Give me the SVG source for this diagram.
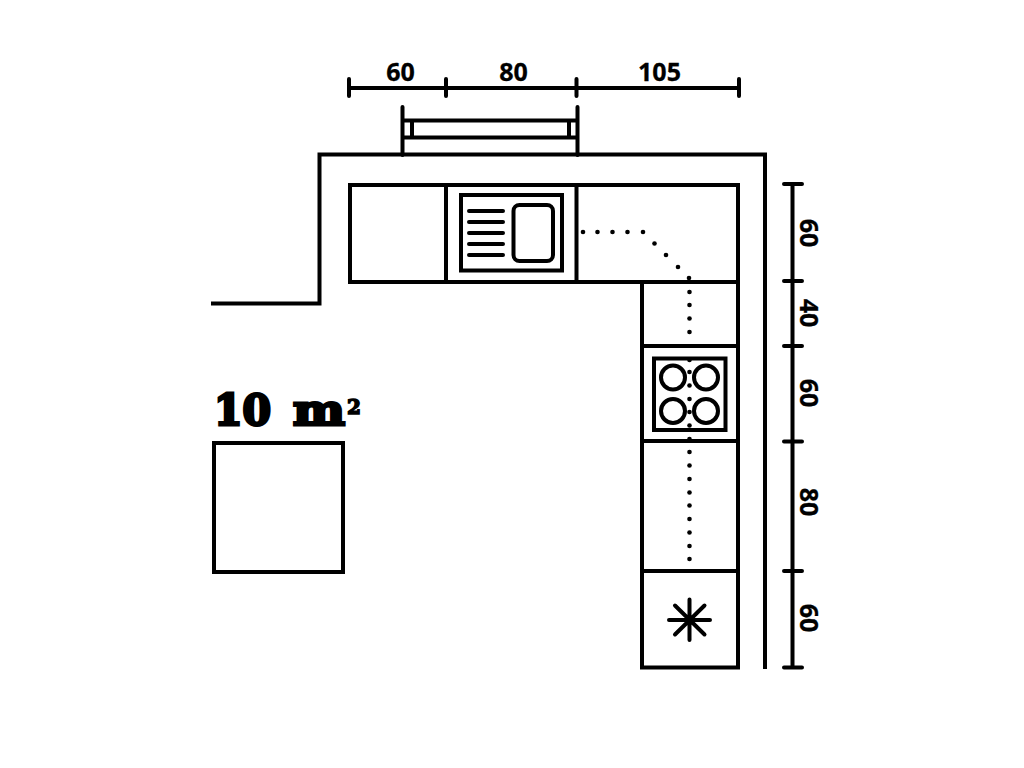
<svg xmlns="http://www.w3.org/2000/svg" width="1024" height="768" viewBox="0 0 1024 768">
<style>
.l{fill:none;stroke:#000;stroke-width:4}
.r{stroke-linecap:round;stroke-linejoin:round}
.d{fill:#000}
.t{font-family:"Open Sans",sans-serif;font-weight:700;font-size:25px;fill:#000;text-anchor:middle;stroke:#000;stroke-width:.3}
</style>
<rect width="1024" height="768" fill="#fff"/>
<g id="walls">
<path class="l" d="M211 303.500H319.500V154.500H765V669"/>
</g>
<g id="window">
<path class="l r" d="M402.500 107V155M577.500 107V155M403 120.500H577M403 137.500H577M412 121V137M569 121V137"/>
</g>
<g id="counter-top">
<path class="l" d="M350 185H738V282H350ZM446 185V282M576.500 185V282"/>
</g>
<g id="counter-side">
<path class="l" d="M642 282V667.500H738V282M642 346H738M642 441H738M642 571H738"/>
</g>
<g id="sink">
<rect class="l" x="461" y="195" width="101" height="75.500"/>
<path class="l r" d="M469 211H503M469 222H503M469 233H503M469 244H503M469 255H503"/>
<rect class="l" x="513.500" y="205" width="39.500" height="56" rx="6"/>
</g>
<g id="route">
<g class="d">
<circle cx="583" cy="232" r="2.300"/><circle cx="597.500" cy="232" r="2.300"/><circle cx="612.500" cy="232" r="2.300"/><circle cx="627.500" cy="232" r="2.300"/><circle cx="643" cy="232" r="2.300"/>
<circle cx="654.500" cy="243.500" r="2.300"/><circle cx="666" cy="255" r="2.300"/><circle cx="678" cy="267" r="2.300"/><circle cx="689" cy="278" r="2.300"/>
<circle cx="689.500" cy="292" r="2.300"/><circle cx="689.500" cy="305" r="2.300"/><circle cx="689.500" cy="318.500" r="2.300"/><circle cx="689.500" cy="332" r="2.300"/>
<circle cx="689.500" cy="360" r="2.300"/><circle cx="689.500" cy="372" r="2.300"/><circle cx="689.500" cy="385.500" r="2.300"/><circle cx="689.500" cy="399" r="2.300"/><circle cx="689.500" cy="412" r="2.300"/><circle cx="689.500" cy="425.500" r="2.300"/><circle cx="689.500" cy="439" r="2.300"/>
<circle cx="689.500" cy="452" r="2.300"/><circle cx="689.500" cy="465.500" r="2.300"/><circle cx="689.500" cy="479" r="2.300"/><circle cx="689.500" cy="492.500" r="2.300"/><circle cx="689.500" cy="505.500" r="2.300"/><circle cx="689.500" cy="519" r="2.300"/><circle cx="689.500" cy="532.500" r="2.300"/><circle cx="689.500" cy="546" r="2.300"/><circle cx="689.500" cy="559" r="2.300"/>
</g>
</g>
<g id="hob">
<rect class="l" x="654" y="358.500" width="71.500" height="71.500"/>
<circle class="l" cx="673" cy="377.500" r="12"/><circle class="l" cx="706" cy="377.500" r="12"/><circle class="l" cx="673" cy="411" r="12"/><circle class="l" cx="706" cy="411" r="12"/>
</g>
<g id="fridge">
<path class="l r" d="M669 620H710M689.500 599.500V640M675 605.500L704.500 634.500M704.500 605.500L675 634.500"/>
</g>
<g id="dimension-top">
<path class="l r" d="M349 79V96M349 88H739M446 79V96M576.500 79V96M739 79V96"/>
<text class="t" x="400.500" y="81">60</text>
<text class="t" x="513.500" y="81">80</text>
<text class="t" x="659.500" y="81">105</text>
</g>
<g id="dimension-right">
<path class="l" d="M792.500 184V667"/>
<path class="l r" d="M784 184H802M784 281H802M784 346H802M784 441.500H802M784 571H802M784 667.500H802"/>
<text class="t" transform="translate(800 233) rotate(90)">60</text>
<text class="t" transform="translate(800 313) rotate(90)">40</text>
<text class="t" transform="translate(800 393) rotate(90)">60</text>
<text class="t" transform="translate(800 502) rotate(90)">80</text>
<text class="t" transform="translate(800 618) rotate(90)">60</text>
</g>
<g id="scale">
<text y="425" font-family="'DejaVu Serif',serif" font-weight="700" font-size="42" stroke="#000" stroke-width="3" fill="#000"><tspan x="214" textLength="57" lengthAdjust="spacingAndGlyphs">10</tspan><tspan x="293" textLength="52" lengthAdjust="spacingAndGlyphs">m</tspan><tspan x="347" y="414" font-size="20" stroke-width="1.500">2</tspan></text>
<rect class="l" x="214" y="443" width="129" height="129"/>
</g>
</svg>
